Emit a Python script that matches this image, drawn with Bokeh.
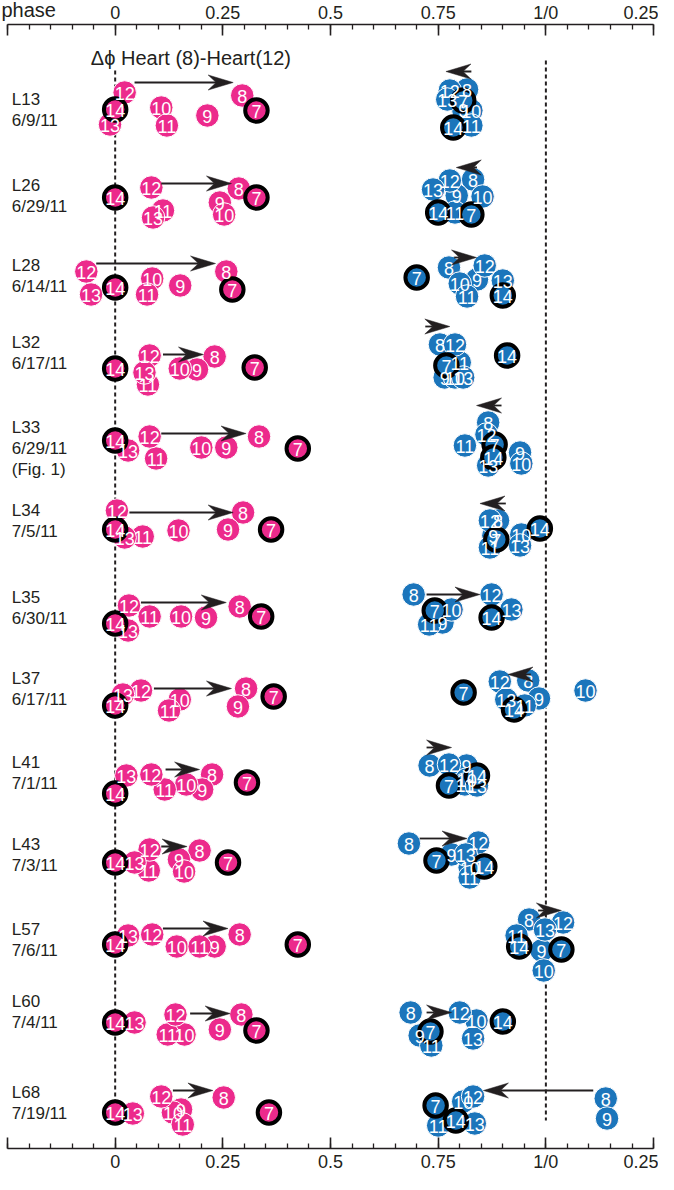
import numpy as np
from bokeh.plotting import figure
from bokeh.models import Range1d, LinearAxis, FixedTicker, ColumnDataSource
from bokeh.core.properties import value
from bokeh.embed import file_html
from bokeh.resources import INLINE

# ---------------- data ----------------
rows = ["L13", "L26", "L28", "L32", "L33", "L34", "L35", "L37", "L41", "L43", "L57", "L60", "L68"]
dates = ["6/9/11", "6/29/11", "6/14/11", "6/17/11", "6/29/11", "7/5/11", "6/30/11",
         "6/17/11", "7/1/11", "7/3/11", "7/6/11", "7/4/11", "7/19/11"]
notes = ["", "", "", "", "(Fig. 1)", "", "", "", "", "", "", "", ""]
hearts = [7, 8, 9, 10, 11, 12, 13, 14]
ringed_hearts = [7, 14]

# phases of hearts 7..14, Heart(14) aligned to 0 (pink)
pink_phase = [
    [0.328, 0.295, 0.214, 0.107, 0.120, 0.022, -0.012, 0.0],
    [0.328, 0.287, 0.243, 0.253, 0.111, 0.084, 0.088, 0.0],
    [0.272, 0.258, 0.151, 0.086, 0.074, -0.067, -0.056, 0.0],
    [0.324, 0.231, 0.190, 0.150, 0.076, 0.080, 0.068, 0.0],
    [0.424, 0.334, 0.258, 0.200, 0.095, 0.080, 0.030, 0.0],
    [0.362, 0.297, 0.262, 0.147, 0.064, 0.004, 0.022, 0.0],
    [0.339, 0.289, 0.211, 0.153, 0.080, 0.032, 0.030, 0.0],
    [0.368, 0.304, 0.285, 0.150, 0.125, 0.060, 0.018, 0.0],
    [0.306, 0.225, 0.202, 0.165, 0.115, 0.084, 0.026, 0.0],
    [0.262, 0.196, 0.148, 0.160, 0.078, 0.080, 0.045, 0.0],
    [0.424, 0.289, 0.231, 0.143, 0.196, 0.086, 0.030, 0.0],
    [0.328, 0.293, 0.243, 0.161, 0.122, 0.140, 0.045, 0.0],
    [0.357, 0.252, 0.153, 0.134, 0.157, 0.107, 0.041, 0.0],
]
# phases of hearts 7..14 (blue)
blue_phase = [
    [0.808, 0.817, 0.808, 0.827, 0.827, 0.777, 0.771, 0.785],
    [0.827, 0.831, 0.793, 0.853, 0.789, 0.777, 0.738, 0.750],
    [0.700, 0.775, 0.840, 0.800, 0.817, 0.858, 0.900, 0.900],
    [0.769, 0.754, 0.765, 0.789, 0.800, 0.789, 0.808, 0.910],
    [0.881, 0.866, 0.940, 0.943, 0.812, 0.862, 0.866, 0.878],
    [0.885, 0.889, 0.878, 0.943, 0.870, 0.870, 0.940, 0.986],
    [0.742, 0.693, 0.760, 0.781, 0.729, 0.874, 0.920, 0.874],
    [0.809, 0.959, 0.984, 1.092, 0.951, 0.893, 0.908, 0.926],
    [0.775, 0.730, 0.816, 0.816, 0.812, 0.775, 0.840, 0.840],
    [0.746, 0.682, 0.781, 0.823, 0.823, 0.843, 0.814, 0.857],
    [1.036, 0.961, 0.990, 0.995, 0.932, 1.040, 0.998, 0.938],
    [0.732, 0.686, 0.707, 0.839, 0.734, 0.800, 0.831, 0.900],
    [0.744, 1.139, 1.142, 0.808, 0.750, 0.831, 0.835, 0.791],
]
# delta-phi arrows
pink_arrow_from = [0.045, 0.107, -0.044, 0.111, 0.107, 0.033, 0.060, 0.090, 0.117, 0.107, 0.111, 0.174, 0.134]
pink_arrow_to = [0.274, 0.270, 0.233, 0.205, 0.304, 0.274, 0.258, 0.270, 0.196, 0.167, 0.262, 0.267, 0.227]
blue_arrow_from = [0.827, 0.840, 0.787, 0.720, 0.897, 0.907, 0.723, 0.965, 0.723, 0.707, 0.982, 0.723, 1.110]
blue_arrow_to = [0.768, 0.792, 0.839, 0.777, 0.839, 0.847, 0.847, 0.912, 0.781, 0.817, 1.036, 0.781, 0.855]

ref_phase = [0.0, 1.0]
tick_values = [-0.25, 0.0, 0.25, 0.5, 0.75, 1.0, 1.25]
tick_labels = ["", "0", "0.25", "0.5", "0.75", "1/0", "0.25"]

# ---------------- layout (vertical placement) ----------------
row_y = [75, 161, 241, 318, 403, 486, 573, 654, 738, 820, 905, 977, 1068]
pink_dy = [
    [11, -4, 16, 8, 26, -7, 25, 10],
    [12, 3, 17, 29, 25, 2, 32, 12],
    [24, 6, 20, 13, 29, 6, 29, 22],
    [25, 14, 27, 26, 42, 13, 30, 26],
    [21, 9, 20, 20, 31, 9, 23, 13],
    [19, 2, 19, 20, 26, 0, 27, 19],
    [19, 9, 20, 19, 19, 8, 33, 26],
    [18, 10, 28, 21, 32, 12, 16, 27],
    [20, 12, 27, 22, 27, 12, 13, 31],
    [18, 6, 15, 27, 26, 5, 18, 18],
    [15, 5, 17, 17, 17, 5, 6, 15],
    [29, 13, 28, 33, 33, 13, 21, 21],
    [20, 5, 17, 20, 32, 4, 21, 20],
]
blue_dy = [
    [1, -10, 10, 11, 26, -9, 0, 28],
    [29, -6, 10, 11, 27, -5, 4, 27],
    [12, 2, 14, 18, 31, 0, 15, 30],
    [23, 2, 35, 35, 20, 2, 35, 13],
    [17, -5, 25, 36, 18, 7, 38, 30],
    [29, 10, 25, 24, 37, 10, 35, 18],
    [13, -3, 25, 12, 27, -3, 12, 20],
    [14, 2, 20, 12, 27, 3, 21, 31],
    [23, 3, 3, 17, 22, 2, 23, 13],
    [16, -1, 10, 23, 33, -2, 10, 22],
    [20, -10, 21, 41, 6, -7, 0, 17],
    [30, 11, 34, 19, 44, 11, 37, 20],
    [13, 6, 26, 9, 33, 4, 31, 28],
]
pink_arrow_dy = [-17, -2, -2, 12, 6, 2, 5, 10, 7, 2, -1, 12, -2]
blue_arrow_dy = [-28, -18, -8, -16, -22, -7, -3, -4, -15, -6, -19, 11, -2]

PINK = "#EC2A8C"
BLUE = "#1B75BB"
INK = "#231F20"
FONT = "Liberation Sans"

W, H = 658, 1174
PX = 430.7                      # pixels per phase unit
AX_LO, AX_HI = -0.25, 1.25      # axis extent
X_LO = AX_LO - 7.0 / PX
X_HI = X_LO + W / PX
Y_TOP, Y_BOT = -24, H - 24      # 1 data unit per pixel, top axis at 0
Y_AXIS_BOT = 1124
sx, sy = PX, 1.0

p = figure(width=W, height=H, x_range=Range1d(X_LO, X_HI), y_range=Range1d(Y_BOT, Y_TOP),
           x_axis_location=None, y_axis_location=None, toolbar_location=None,
           output_backend="svg", min_border=0)
p.outline_line_color = None
p.grid.grid_line_color = None
p.background_fill_color = "white"
p.border_fill_color = "white"
p.title.visible = False

top = LinearAxis(fixed_location=0)
bot = LinearAxis(fixed_location=Y_AXIS_BOT)
p.add_layout(top, "above")
p.add_layout(bot, "below")
minor = [round(AX_LO + 0.05 * i, 2) for i in range(31)]
overrides = {v: t for v, t in zip(tick_values, tick_labels)}
for ax in [top, bot]:
    ax.bounds = (AX_LO, AX_HI)
    ax.ticker = FixedTicker(ticks=tick_values, minor_ticks=minor)
    ax.major_label_overrides = overrides
    ax.axis_line_color = INK
    ax.axis_line_width = 1.6
    ax.major_tick_line_color = INK
    ax.major_tick_line_width = 1.6
    ax.minor_tick_line_color = INK
    ax.minor_tick_line_width = 1.3
    ax.major_tick_in = 11
    ax.major_tick_out = 0
    ax.minor_tick_in = 5
    ax.minor_tick_out = 0
    ax.major_label_text_font = FONT
    ax.major_label_text_font_size = "18px"
    ax.major_label_text_color = INK
top.major_label_standoff = 2
bot.major_label_standoff = 3

# axis caption
p.text(x=[X_LO + 1.0 / PX], y=[-15], text=["phase"], text_font=value(FONT),
       text_font_size="20px", text_color=INK, text_align="left", text_baseline="middle")

# reference dashed lines
ref_y0 = [row_y[0] - 29, row_y[0] - 39]
ref_y1 = [row_y[-1] + 12, row_y[-1] + 28]
p.segment(x0=ref_phase, x1=ref_phase, y0=ref_y0, y1=ref_y1, line_color=INK,
          line_width=2, line_dash="4 3")

# title
p.text(x=[-0.0565], y=[33], text=["\u0394\u03d5 Heart (8)-Heart(12)"], text_font=value(FONT),
       text_font_size="20px", text_color=INK, text_align="left", text_baseline="middle")

# row labels
lab_x = [-0.24] * len(rows)
p.text(x=lab_x, y=row_y, text=rows, text_font=value(FONT), text_font_size="17px",
       text_color=INK, text_align="left", text_baseline="middle")
p.text(x=lab_x, y=[y + 21 for y in row_y], text=dates, text_font=value(FONT),
       text_font_size="17px", text_color=INK, text_align="left", text_baseline="middle")
p.text(x=lab_x, y=[y + 42 for y in row_y], text=notes, text_font=value(FONT),
       text_font_size="17px", text_color=INK, text_align="left", text_baseline="middle")


def circle_sources(phases, dys):
    plain = dict(x=[], y=[], t=[])
    ring = dict(x=[], y=[], t=[])
    for r, (ph, dy) in enumerate(zip(phases, dys)):
        for h, xv, d in zip(hearts, ph, dy):
            tgt = ring if h in ringed_hearts else plain
            tgt["x"].append(xv)
            tgt["y"].append(row_y[r] + d)
            tgt["t"].append(str(h))
    return plain, ring


HEAD_L, HEAD_W, HEAD_N = 25, 7.5, 8


def arrow_sources(x0s, x1s, dys):
    seg = dict(x0=[], x1=[], y=[])
    heads = dict(xs=[], ys=[])
    for r, (a, b, d) in enumerate(zip(x0s, x1s, dys)):
        y = row_y[r] + d
        s = 1 if b > a else -1
        back = b - s * HEAD_L / sx
        notch = b - s * (HEAD_L - HEAD_N) / sx
        heads["xs"].append([b, back, notch, back])
        heads["ys"].append([y, y - HEAD_W / sy, y, y + HEAD_W / sy])
        if (b - a) * s > (HEAD_L - HEAD_N) / sx:
            seg["x0"].append(a)
            seg["x1"].append(notch)
            seg["y"].append(y)
    return seg, heads


for phases, dys, color in [(pink_phase, pink_dy, PINK), (blue_phase, blue_dy, BLUE)]:
    plain, ring = circle_sources(phases, dys)
    p.scatter(x="x", y="y", source=ColumnDataSource(plain), size=23.5,
              fill_color=color, line_color="white", line_width=1)
    p.scatter(x="x", y="y", source=ColumnDataSource(ring), size=22.5,
              fill_color=color, line_color="black", line_width=4)
    both = dict(x=plain["x"] + ring["x"], y=plain["y"] + ring["y"], t=plain["t"] + ring["t"])
    p.text(x="x", y="y", text="t", source=ColumnDataSource(both), text_font=value(FONT),
           text_font_size="18px", text_color="white", text_align="center",
           text_baseline="middle", y_offset=1)

for x0s, x1s, dys in [(pink_arrow_from, pink_arrow_to, pink_arrow_dy),
                      (blue_arrow_from, blue_arrow_to, blue_arrow_dy)]:
    seg, heads = arrow_sources(x0s, x1s, dys)
    p.segment(x0="x0", x1="x1", y0="y", y1="y", source=ColumnDataSource(seg),
              line_color=INK, line_width=1.8)
    p.patches(xs="xs", ys="ys", source=ColumnDataSource(heads), fill_color=INK,
              line_color=INK, line_width=0.5)

open("out.html", "w").write(file_html(p, INLINE))
